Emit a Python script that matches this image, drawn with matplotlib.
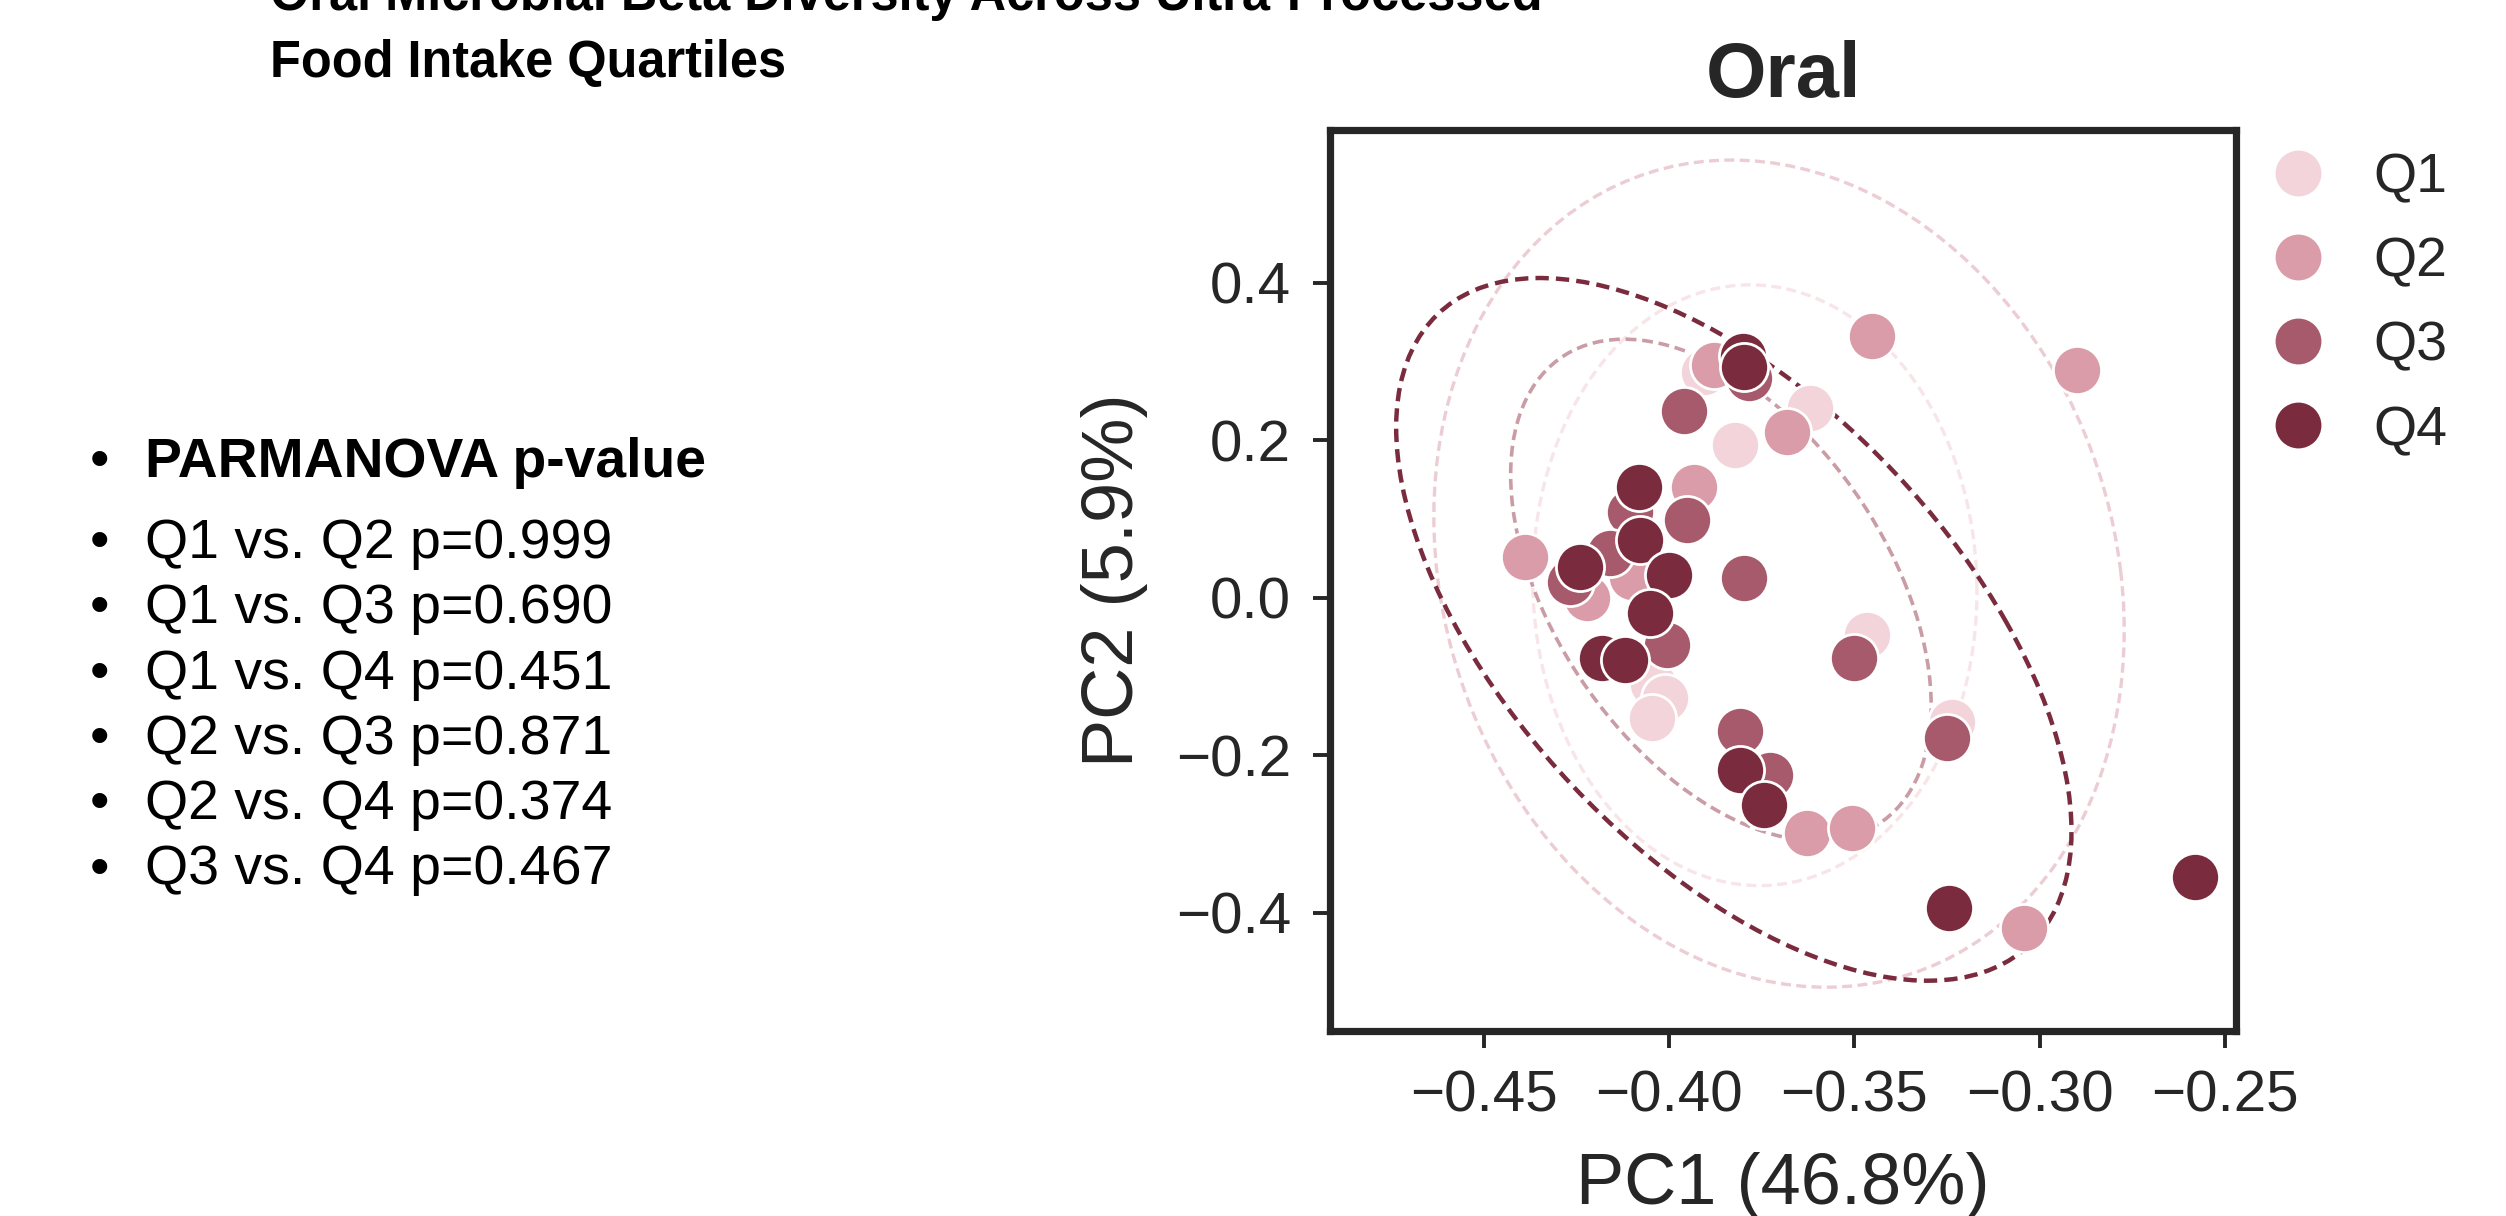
import numpy as np
import matplotlib
matplotlib.use("Agg")
import matplotlib.pyplot as plt
from matplotlib.patches import Ellipse
from matplotlib.lines import Line2D

# ---------------- data ----------------
groups = ["Q1", "Q2", "Q3", "Q4"]
colors = ["#f2d4da", "#d99ca8", "#a65a6b", "#7a2c3e"]

q1_x = [-0.3907, -0.3821, -0.3619, -0.4042, -0.4010, -0.4046, -0.3466, -0.3237]
q1_y = [0.287, 0.194, 0.241, -0.110, -0.127, -0.153, -0.047, -0.157]

q2_x = [-0.3880, -0.3682, -0.3453, -0.3934, -0.4222, -0.4388, -0.4100, -0.3628, -0.3506, -0.2900, -0.3043]
q2_y = [0.296, 0.211, 0.332, 0.141, 0.000, 0.052, 0.027, -0.299, -0.292, 0.2895, -0.419]

q3_x = [-0.3785, -0.3961, -0.4105, -0.3952, -0.4159, -0.4267, -0.4006, -0.3799, -0.3502, -0.3808, -0.3727, -0.3250]
q3_y = [0.279, 0.2366, 0.1096, 0.099, 0.0568, 0.0207, -0.0597, 0.025, -0.0766, -0.169, -0.2248, -0.178]

q4_x = [-0.3801, -0.3797, -0.4082, -0.4078, -0.4240, -0.4001, -0.4051, -0.4181, -0.4118, -0.3808, -0.3745, -0.3246, -0.2580]
q4_y = [0.307, 0.293, 0.1413, 0.0737, 0.0397, 0.0292, -0.0194, -0.0766, -0.0787, -0.2184, -0.2629, -0.394, -0.354]

xs = [q1_x, q2_x, q3_x, q4_x]
ys = [q1_y, q2_y, q3_y, q4_y]

title_lines = ["Oral Microbial Beta Diversity Across Ultra-Processed", "Food Intake Quartiles"]
stat_header = "PARMANOVA p-value"
comparisons = ["Q1 vs. Q2", "Q1 vs. Q3", "Q1 vs. Q4", "Q2 vs. Q3", "Q2 vs. Q4", "Q3 vs. Q4"]
p_values = [0.999, 0.690, 0.451, 0.871, 0.374, 0.467]

x_ticks = [-0.45, -0.40, -0.35, -0.30, -0.25]
y_ticks = [-0.4, -0.2, 0.0, 0.2, 0.4]

# ---------------- style ----------------
plt.rcParams['font.family'] = ['Liberation Sans', 'DejaVu Sans']
TXT = "#262626"

fig = plt.figure(figsize=(12.53, 6.08), dpi=200)
ax = fig.add_axes([0.5307, 0.1521, 0.3616, 0.7410])


def conf_ellipse(x, y, n_std, **kw):
    x = np.asarray(x); y = np.asarray(y)
    cov = np.cov(x, y)
    vals, vecs = np.linalg.eigh(cov)
    order = vals.argsort()[::-1]
    vals, vecs = vals[order], vecs[:, order]
    angle = np.degrees(np.arctan2(vecs[1, 0], vecs[0, 0]))
    w, h = 2 * n_std * np.sqrt(vals)
    return Ellipse((x.mean(), y.mean()), w, h, angle=angle, fill=False, **kw)

ell_alpha = [0.6, 0.5, 0.6, 1.0]
ell_lw = [1.2, 1.2, 1.3, 1.6]
for gx, gy, c, a, lw in zip(xs, ys, colors, ell_alpha, ell_lw):
    e = conf_ellipse(gx, gy, 2.0, edgecolor=c, alpha=a, lw=lw, linestyle=(0, (3.0, 1.6)), zorder=1)
    ax.add_patch(e)

for gx, gy, c in zip(xs, ys, colors):
    ax.scatter(gx, gy, s=300, color=c, edgecolor="white", linewidth=1.0, zorder=2)

ax.set_xlim(-0.4915, -0.247)
ax.set_ylim(-0.55, 0.594)
ax.set_xticks(x_ticks)
ax.set_yticks(y_ticks)
ax.set_xticklabels([f"\u2212{abs(v):.2f}" if v < 0 else f"{v:.2f}" for v in x_ticks])
ax.set_yticklabels([f"\u2212{abs(v):.1f}" if v < 0 else f"{v:.1f}" for v in y_ticks])
ax.tick_params(axis="both", labelsize=21, length=6, width=1.4, colors=TXT, pad=8)
for sp in ax.spines.values():
    sp.set_linewidth(2.6)
    sp.set_color(TXT)

ax.set_xlabel("PC1 (46.8%)", fontsize=26, color=TXT, labelpad=10)
ax.set_ylabel("PC2 (5.9%)", fontsize=26, color=TXT, labelpad=10)
ax.set_title("Oral", fontsize=28, fontweight="bold", color=TXT, pad=12)

handles = [Line2D([0], [0], marker="o", linestyle="", markersize=17.5, markerfacecolor=c,
                  markeredgecolor="white", markeredgewidth=1.0) for c in colors]
leg = ax.legend(handles, groups, loc="upper left", bbox_to_anchor=(1.0132, 1.0), frameon=False,
                fontsize=20, labelspacing=0.58, handlelength=1.0, handletextpad=0.85,
                borderpad=0.4, borderaxespad=0.0)
for t in leg.get_texts():
    t.set_color(TXT)

# ---------------- left-hand text ----------------
fig.text(0.1077, 1 - 10 / 1216, title_lines[0], fontsize=18.2, fontweight="bold",
         va="baseline", ha="left", color="black")
fig.text(0.1077, 1 - 77 / 1216, title_lines[1], fontsize=18.2, fontweight="bold",
         va="baseline", ha="left", color="black")

bullet_x = 90 / 2506
text_x = 145 / 2506
fig.text(bullet_x, 1 - 477 / 1216, "\u2022", fontsize=20, va="baseline", ha="left", color="black")
fig.text(text_x, 1 - 477 / 1216, stat_header, fontsize=19.9, fontweight="bold",
         va="baseline", ha="left", color="black")
for i, (cmp, p) in enumerate(zip(comparisons, p_values)):
    yb = 1 - (558 + i * 65.3) / 1216
    fig.text(bullet_x, yb, "\u2022", fontsize=20, va="baseline", ha="left", color="black")
    fig.text(text_x, yb, f"{cmp} p={p:.3f}", fontsize=20, va="baseline", ha="left", color="black")

fig.savefig("out.png", dpi=200)
